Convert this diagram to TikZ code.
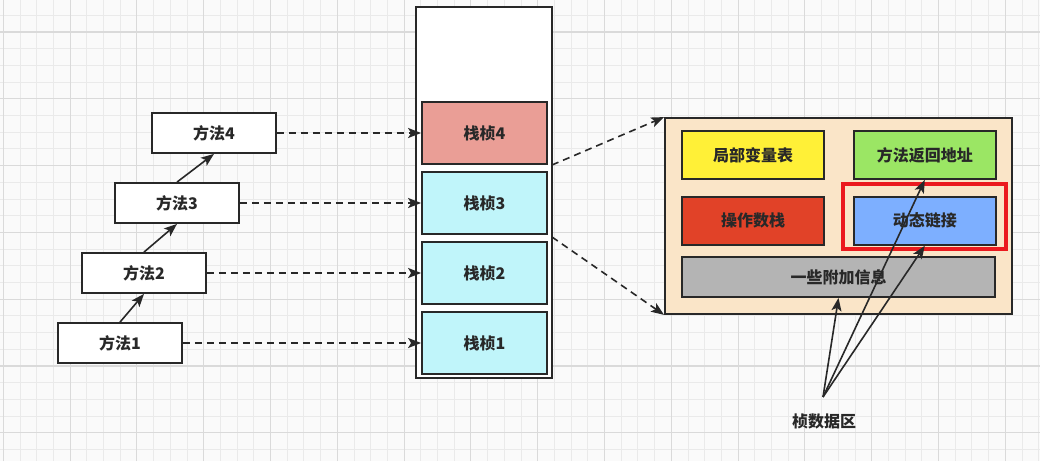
\documentclass[tikz,border=0pt]{standalone}
\usepackage{fontspec}
\setmainfont{Noto Sans CJK SC}
\usetikzlibrary{arrows.meta,positioning}
\definecolor{gridminor}{RGB}{234,234,234}
\definecolor{gridmajor}{RGB}{218,218,218}
\definecolor{ink}{RGB}{40,40,40}
\definecolor{framered}{RGB}{234,158,150}
\definecolor{framecyan}{RGB}{192,245,250}
\definecolor{detailbg}{RGB}{250,229,200}
\definecolor{slotyellow}{RGB}{255,240,55}
\definecolor{slotgreen}{RGB}{155,230,100}
\definecolor{slotred}{RGB}{225,66,40}
\definecolor{slotblue}{RGB}{125,175,255}
\definecolor{slotgray}{RGB}{180,180,180}
\definecolor{selred}{RGB}{235,25,30}

\begin{document}
\begin{tikzpicture}[x=1pt, y=1pt, node distance=70pt,
    font=\fontsize{16}{19}\selectfont\bfseries, text=ink,
    method/.style={rectangle, draw=ink, line width=1.8pt, fill=white, minimum width=124pt, minimum height=40pt},
    frame/.style={rectangle, draw=ink, line width=1.8pt, fill=framecyan, minimum width=125pt, minimum height=62pt},
    slot/.style={rectangle, draw=ink, line width=1.8pt, minimum width=142pt, minimum height=48pt},
    call/.style={-{Stealth[length=13pt,width=10pt,inset=3pt]}, line width=1.6pt, draw=ink},
    link/.style={-{Stealth[length=13pt,width=10pt,inset=3pt]}, line width=1.6pt, dash pattern=on 7pt off 5pt, draw=ink}]

\useasboundingbox (0,0) rectangle (1040,461);
\fill[white!98!black] (0,0) rectangle (1040,461);
\foreach \i in {0,...,62} \draw[gridminor, line width=0.9pt] ({3.3+16.7*\i},0) -- ({3.3+16.7*\i},461);
\foreach \i in {0,...,27} \draw[gridminor, line width=0.9pt] (0,{445.7-16.7*\i}) -- (1040,{445.7-16.7*\i});
\foreach \i in {0,...,15} \draw[gridmajor, line width=1.1pt] ({3.3+66.8*\i},0) -- ({3.3+66.8*\i},461);
\foreach \i in {0,...,6} \draw[gridmajor, line width=1.1pt] (0,{429-66.8*\i}) -- (1040,{429-66.8*\i});

\node [method] (m1) at (120,118) {方法1};
\node [method] (m2) at (144,188) {方法2};
\node [method] (m3) at (177,258) {方法3};
\node [method] (m4) at (214,328) {方法4};

\node [rectangle, draw=ink, line width=1.8pt, fill=white, minimum width=136pt, minimum height=371pt] (stack) at (484,268.5) {};
\node [frame, fill=framered] (f4) at (484.5,328) {栈桢4};
\node [frame, below of=f4] (f3) {栈桢3};
\node [frame, below of=f3] (f2) {栈桢2};
\node [frame, below of=f2] (f1) {栈桢1};

\node [rectangle, draw=ink, line width=1.8pt, fill=detailbg, minimum width=347pt, minimum height=196pt] (detail) at (838.5,245) {};
\node [slot, fill=slotyellow] (locals) at (753,306) {局部变量表};
\node [slot, fill=slotgreen, right=28pt of locals] (ret) {方法返回地址};
\node [slot, fill=slotred, below=16pt of locals] (ops) {操作数栈};
\node [slot, fill=slotblue, below=16pt of ret] (dyn) {动态链接};
\node [slot, fill=slotgray, minimum width=313pt, minimum height=40pt] (info) at (838.5,184) {一些附加信息};
\node [rectangle, draw=selred, line width=3.5pt, minimum width=163pt, minimum height=65pt] (sel) at (924.5,244.5) {};

\node (area) at (824,40) {桢数据区};
\coordinate (hub) at (823,64);
\coordinate (out1) at (552,296);
\coordinate (out2) at (552,224);

\draw [call] (m1.north) -- (m2.south);
\draw [call] (m2.north) -- (m3.south);
\draw [call] (m3.north) -- (m4.south);

\draw [link] (m1) -- (f1);
\draw [link] (m2) -- (f2);
\draw [link] (m3) -- (f3);
\draw [link] (m4) -- (f4);
\draw [link] (out1) -- (detail.north west);
\draw [link] (out2) -- (detail.south west);

\draw [call] (hub) -- (info.south);
\draw [call] (hub) -- (dyn.south);
\draw [call] (hub) -- (ret.south);

\end{tikzpicture}
\end{document}
